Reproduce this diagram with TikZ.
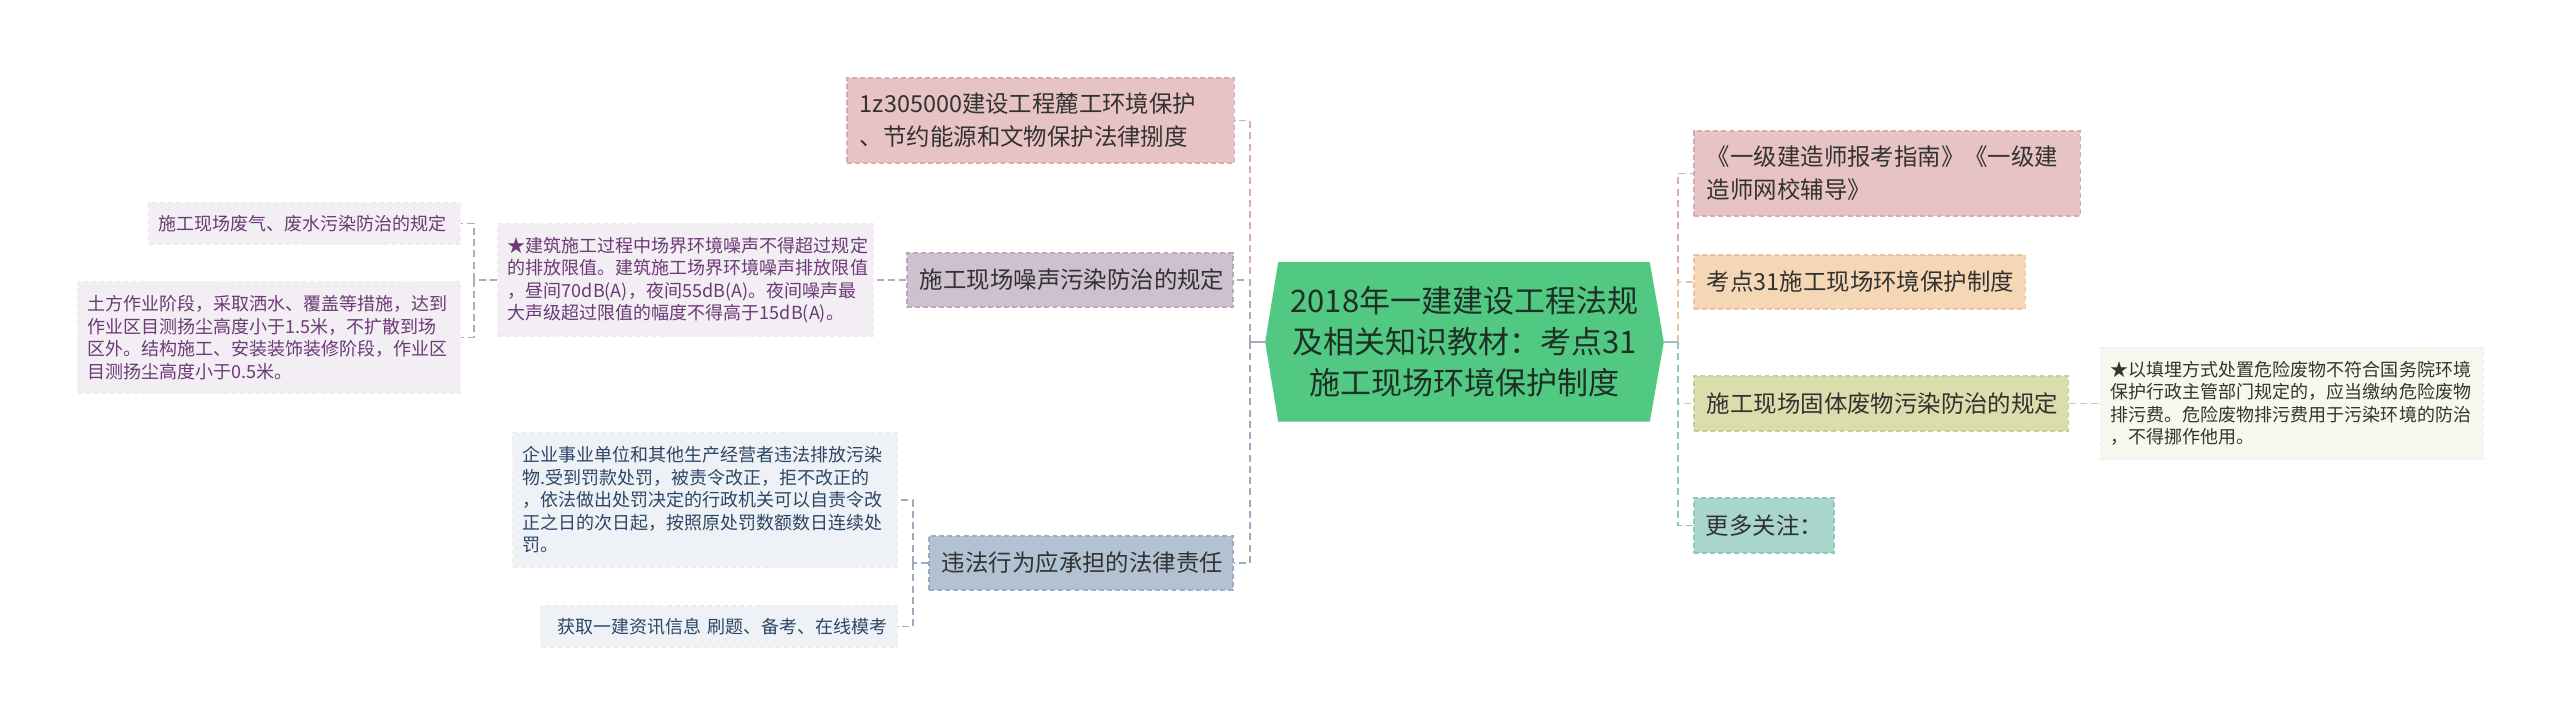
\documentclass[tikz,border=0pt]{standalone}
\usepackage{fontspec}
\setmainfont{Noto Sans CJK SC}
\usetikzlibrary{backgrounds}

\definecolor{rootfill}{RGB}{82,201,130}
\definecolor{rootink}{RGB}{30,48,38}
\definecolor{topicink}{RGB}{50,50,50}
\definecolor{pinkfill}{RGB}{232,195,195}
\definecolor{pinkline}{RGB}{214,172,172}
\definecolor{mauvefill}{RGB}{206,192,206}
\definecolor{mauveline}{RGB}{184,168,184}
\definecolor{bluefill}{RGB}{178,194,210}
\definecolor{blueline}{RGB}{155,172,190}
\definecolor{peachfill}{RGB}{245,215,182}
\definecolor{peachline}{RGB}{232,196,160}
\definecolor{olivefill}{RGB}{218,221,172}
\definecolor{oliveline}{RGB}{200,204,160}
\definecolor{tealfill}{RGB}{168,214,204}
\definecolor{tealline}{RGB}{145,198,188}
\definecolor{lilacleaf}{RGB}{242,238,243}
\definecolor{lilacink}{RGB}{108,58,118}
\definecolor{skyleaf}{RGB}{238,242,247}
\definecolor{skyink}{RGB}{44,70,102}
\definecolor{creamleaf}{RGB}{246,247,238}
\definecolor{creamink}{RGB}{52,52,44}
\definecolor{leafline}{RGB}{237,237,240}

\begin{document}
\begin{tikzpicture}[x=0.01cm, y=-0.01cm]
    \useasboundingbox (0,0) rectangle (2560,725);
    \tikzset{
        topic/.style = {shape=rectangle, draw, dash pattern=on 1.4pt off 0.9pt, line width=0.35pt, inner xsep=0.13cm, inner ysep=0pt, align=left, text=topicink, font=\fontsize{6.66pt}{9.4pt}\selectfont},
        leaf/.style = {shape=rectangle, draw=leafline, dash pattern=on 1.4pt off 0.9pt, line width=0.3pt, inner xsep=0.10cm, inner ysep=0pt, align=left, font=\fontsize{5.12pt}{6.4pt}\selectfont},
        link/.style = {line width=0.55pt, dash pattern=on 2pt off 1.2pt},
        stub/.style = {line width=0.6pt}
    }

    % root
    \node (root) at (1464.5, 342) [minimum width=3.97cm, minimum height=1.58cm, inner sep=0pt, align=center, text=rootink, font=\fontsize{8.82pt}{11.67pt}\selectfont]
        {2018年一建建设工程法规\\及相关知识教材：考点31\\施工现场环境保护制度};
    \begin{scope}[on background layer]
        \fill[rootfill] (root.west) -- ([xshift=0.13cm]root.north west) -- ([xshift=-0.14cm]root.north east) -- (root.east)
            -- ([xshift=-0.14cm]root.south east) -- ([xshift=0.13cm]root.south west) -- cycle;
    \end{scope}

    % left topics
    \node[topic, fill=pinkfill, draw=pinkline, text width=3.61cm, minimum height=0.85cm] (law) at (1040.5, 120.5)
        {1z305000建设工程麓工环境保护\\、节约能源和文物保护法律捌度};
    \node[topic, fill=mauvefill, draw=mauveline, text width=3.00cm, minimum height=0.54cm] (noise) at (1070, 280)
        {施工现场噪声污染防治的规定};
    \node[topic, fill=bluefill, draw=blueline, text width=2.78cm, minimum height=0.54cm] (liab) at (1081, 563)
        {违法行为应承担的法律责任};

    % left leaves
    \node[leaf, fill=lilacleaf, text=lilacink, text width=3.55cm, minimum height=1.12cm] (limit) at (685.5, 280)
        {★建筑施工过程中场界环境噪声不得超过规定\\的排放限值。建筑施工场界环境噪声排放限值\\，昼间70dB(A)，夜间55dB(A)。夜间噪声最\\大声级超过限值的幅度不得高于15dB(A)。};
    \node[leaf, fill=lilacleaf, text=lilacink, text width=2.91cm, minimum height=0.41cm] (gas) at (304.5, 223.5)
        {施工现场废气、废水污染防治的规定};
    \node[leaf, fill=lilacleaf, text=lilacink, text width=3.62cm, minimum height=1.11cm] (dust) at (269, 337.5)
        {土方作业阶段，采取洒水、覆盖等措施，达到\\作业区目测扬尘高度小于1.5米，不扩散到场\\区外。结构施工、安装装饰装修阶段，作业区\\目测扬尘高度小于0.5米。};
    \node[leaf, fill=skyleaf, text=skyink, text width=3.64cm, minimum height=1.34cm] (fine) at (705, 500)
        {企业事业单位和其他生产经营者违法排放污染\\物.受到罚款处罚，被责令改正，拒不改正的\\，依法做出处罚决定的行政机关可以自责令改\\正之日的次日起，按照原处罚数额数日连续处\\罚。};
    \node[leaf, fill=skyleaf, text=skyink, text width=3.36cm, minimum height=0.41cm, align=right] (info) at (719, 626.5)
        {获取一建资讯信息~刷题、备考、在线模考};

    % right topics
    \node[topic, fill=pinkfill, draw=pinkline, text width=3.60cm, minimum height=0.85cm] (guide) at (1887, 173.5)
        {《一级建造师报考指南》《一级建\\造师网校辅导》};
    \node[topic, fill=peachfill, draw=peachline, text width=3.05cm, minimum height=0.54cm] (point) at (1859.5, 282)
        {考点31施工现场环境保护制度};
    \node[topic, fill=olivefill, draw=oliveline, text width=3.48cm, minimum height=0.55cm] (solid) at (1881, 403.5)
        {施工现场固体废物污染防治的规定};
    \node[topic, fill=tealfill, draw=tealline, text width=1.16cm, inner xsep=0.12cm, minimum height=0.55cm] (more) at (1764, 525.5)
        {更多关注：};

    % right leaf
    \node[leaf, fill=creamleaf, text=creamink, text width=3.62cm, minimum height=1.12cm] (waste) at (2292, 403.5)
        {★以填埋方式处置危险废物不符合国务院环境\\保护行政主管部门规定的，应当缴纳危险废物\\排污费。危险废物排污费用于污染环境的防治\\，不得挪作他用。};

    % junctions
    \coordinate (lbus) at (1250, 342);
    \coordinate (rbus) at (1678, 342);
    \coordinate (nbus) at (474, 280);
    \coordinate (cbus) at (913, 563);

    \draw[link, pinkline] (lbus) |- (law.east);
    \draw[link, mauveline] (lbus) |- (noise.east);
    \draw[link, blueline] (lbus) |- (liab.east);
    \draw[stub, blueline] (root.west) -- (lbus);

    \draw[link, mauveline] (noise.west) -- (limit.east);
    \draw[link, mauveline] (limit.west) -- (nbus);
    \draw[link, mauveline] (nbus) |- (gas.east);
    \draw[link, mauveline] (nbus) |- (dust.east);

    \draw[link, blueline] (liab.west) -- (cbus);
    \draw[link, blueline] (cbus) |- (fine.east);
    \draw[link, blueline] (cbus) |- (info.east);

    \draw[link, pinkline] (rbus) |- (guide.west);
    \draw[link, peachline] (rbus) |- (point.west);
    \draw[link, oliveline] (rbus) |- (solid.west);
    \draw[link, tealline] (rbus) |- (more.west);
    \draw[stub, tealline] (root.east) -- (rbus);

    \draw[link, oliveline] (solid.east) -- (waste.west);

\end{tikzpicture}
\end{document}
